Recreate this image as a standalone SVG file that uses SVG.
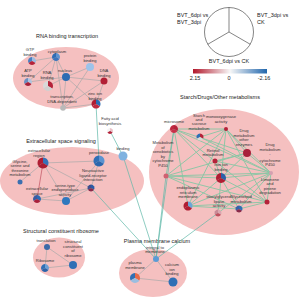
<svg xmlns="http://www.w3.org/2000/svg" width="300" height="297" viewBox="0 0 300 297">
<style>
.cl{fill:#f5c0c0}
.t{font-family:"Liberation Sans",Arial,sans-serif;font-size:5.5px;fill:#222;text-anchor:middle}
.l{font-family:"Liberation Sans",Arial,sans-serif;font-size:4.1px;fill:#333;text-anchor:middle}
.lg{font-family:"Liberation Sans",Arial,sans-serif;font-size:5.5px;fill:#222}
.g{stroke:#a9a9a9;stroke-width:.7;fill:none}
.r{stroke:#c05060;stroke-width:.7;fill:none}
.e{stroke:#86c6a4;stroke-width:.9;fill:none}
.x{stroke:#5fb8a8;stroke-width:.7;fill:none}
.o{fill:none;stroke:#fff;stroke-width:.3}
</style>
<defs>
<path id="ul" d="M0 0L-0.866 0.5A1 1 0 0 1 0 -1Z"/>
<path id="ur" d="M0 0L0 -1A1 1 0 0 1 0.866 0.5Z"/>
<path id="bt" d="M0 0L0.866 0.5A1 1 0 0 1 -0.866 0.5Z"/>
<linearGradient id="cb" x1="0" x2="1" y1="0" y2="0">
<stop offset="0" stop-color="#b2182b"/>
<stop offset="0.5" stop-color="#f7f7f7"/>
<stop offset="1" stop-color="#2166ac"/>
</linearGradient>
</defs>

<!-- clusters -->
<g id="clusters">
<ellipse class="cl" cx="66" cy="78" rx="53" ry="31"/>
<ellipse class="cl" cx="72" cy="181" rx="72" ry="34"/>
<ellipse class="cl" cx="59" cy="257.5" rx="26" ry="20"/>
<ellipse class="cl" cx="153" cy="273" rx="34" ry="24"/>
<ellipse class="cl" cx="224" cy="172" rx="75" ry="63"/>
</g>
<g id="titles">
<text class="t" x="67" y="38">RNA binding transcription</text>
<text class="t" x="61" y="143">Extracellular space signaling</text>
<text class="t" x="61" y="233">Structural constituent ribosome</text>
<text class="t" x="157" y="243">Plasma membrane calcium</text>
<text class="t" x="220" y="99">Starch/Drugs/Other metabolisms</text>
</g>

<!-- legend -->
<g id="legend">
<circle cx="229" cy="32" r="24.5" fill="none" stroke="#333" stroke-width=".6"/>
<path d="M229 32V7.5M229 32L207.8 44.25M229 32L250.2 44.25" stroke="#333" stroke-width=".6" fill="none"/>
<text class="lg" x="177" y="17">BVT_6dpi vs</text>
<text class="lg" x="177" y="23.5">BVT_3dpi</text>
<text class="lg" x="257" y="17">BVT_3dpi vs</text>
<text class="lg" x="257" y="23.5">CK</text>
<text class="lg" x="229" y="63" text-anchor="middle">BVT_6dpi vs CK</text>
<rect x="193" y="69" width="74" height="4.5" fill="url(#cb)"/>
<text class="lg" x="195" y="80" text-anchor="middle" font-size="5">2.15</text>
<text class="lg" x="229" y="80" text-anchor="middle" font-size="5">0</text>
<text class="lg" x="264" y="80" text-anchor="middle" font-size="5">-2.16</text>
</g>

<!-- connectors -->
<g id="connectors">
<!-- RNA cluster -->
<path class="g" d="M32 61L56 57M56 57L66 77M56 57L48 86M56 57L28 82M56 57L63 108M66 77L90 67M66 77L104 81M66 77L63 108M66 77L96 104M66 77L48 86M104 81L96 104M104 81L63 108M96 104L63 108M90 67L63 108M28 82L66 77"/>
<!-- extracellular cluster -->
<path class="g" d="M43 163L99 161M43 163L91 188M43 163L66 201M43 163L20 182M99 161L91 188M99 161L66 201M91 188L66 201M66 201L37 199M91 188L37 199"/>
<path class="r" d="M43 163L37 199"/>
<!-- ribosome -->
<path class="g" d="M47 247L45 268M47 247L73 265M45 268L73 265"/>
<!-- plasma -->
<path class="g" d="M156 259L135 278M156 259L173 282M135 278L173 282"/>
<!-- starch cluster -->
<path class="e" d="M174 129L226 129M174 129L247 153M174 129L271 173M174 129L221 178M174 129L267 202M174 129L166 176M174 129L188 206M226 129L247 153M226 129L166 176M226 129L221 178M226 129L271 173M226 129L188 206M226 129L267 202M247 153L166 176M247 153L271 173M247 153L221 178M247 153L215 161M166 176L271 173M166 176L221 178M166 176L267 202M166 176L239 209M215 161L271 173M215 161L221 178M221 178L271 173M221 178L267 202M221 178L188 206M221 178L239 209M221 178L218 213M188 206L271 173M188 206L267 202M188 206L239 209M271 173L267 202M271 173L239 209M267 202L239 209M218 213L271 173M200 137L271 173M200 137L226 129"/>
<!-- cross-cluster -->
<path class="x" d="M96 104L99 161M110 131L123 156M123 156L156 259M91 188L156 259M166 176L156 259M174 129L156 259M218 213L156 259"/>
</g>

<!-- nodes -->
<g id="n-gtp"><use href="#ul" fill="#4a7fc0" transform="translate(32 61) scale(4)"/><use href="#ur" fill="#9dbbe0" transform="translate(32 61) scale(4)"/><use href="#bt" fill="#b5223a" transform="translate(32 61) scale(4)"/><text class="l" x="30" y="51">GTP</text><text class="l" x="30" y="55.5">binding</text></g>
<g id="n-cytoplasm"><use href="#ul" fill="#2e6db5" transform="translate(56 57) scale(4)"/><use href="#ur" fill="#5b93d0" transform="translate(56 57) scale(4)"/><use href="#bt" fill="#3a74bd" transform="translate(56 57) scale(4)"/><text class="l" x="57" y="52.5">cytoplasm</text></g>
<g id="n-protein"><circle cx="90" cy="67" r="4" fill="#9cc3ea"/><text class="l" x="90" y="57">protein</text><text class="l" x="90" y="61.5">binding</text></g>
<g id="n-atp"><use href="#ul" fill="#6b8fc0" transform="translate(28 82) scale(4)"/><use href="#ur" fill="#b0c4de" transform="translate(28 82) scale(4)"/><use href="#bt" fill="#a8203a" transform="translate(28 82) scale(4)"/><text class="l" x="28" y="72">ATP</text><text class="l" x="28" y="76.5">binding</text></g>
<g id="n-rna"><use href="#ul" fill="#d8d8d8" transform="translate(48 86) scale(5)"/><use href="#ur" fill="#b5223a" transform="translate(48 86) scale(5)"/><use href="#bt" fill="#d0d0d0" transform="translate(48 86) scale(5)"/><text class="l" x="47" y="74">RNA</text><text class="l" x="47" y="78.5">binding</text></g>
<g id="n-nucleus"><circle cx="66" cy="77" r="4" fill="#2d6db3"/><text class="l" x="65" y="71.5">nucleus</text></g>
<g id="n-dna"><circle cx="104" cy="81" r="3.5" fill="#b21f35"/><text class="l" x="104" y="72">DNA</text><text class="l" x="104" y="76.5">binding</text></g>
<g id="n-transcription"><circle cx="63" cy="108" r="2.8" fill="#b9b9b9"/><text class="l" x="62" y="98">transcription,</text><text class="l" x="62" y="102.5">DNA-dependent</text></g>
<g id="n-zinc"><use href="#ul" fill="#b01d33" transform="translate(96 104) scale(4.5)"/><use href="#ur" fill="#2d6db3" transform="translate(96 104) scale(4.5)"/><use href="#bt" fill="#c02a40" transform="translate(96 104) scale(4.5)"/><text class="l" x="95" y="95">zinc ion</text><text class="l" x="95" y="99.5">binding</text></g>

<g id="n-fatty"><use href="#ul" fill="#f4f4f4" transform="translate(110 131) scale(3)"/><use href="#ur" fill="#e9c3c8" transform="translate(110 131) scale(3)"/><use href="#bt" fill="#b5223a" transform="translate(110 131) scale(3)"/><text class="l" x="110" y="120">Fatty acid</text><text class="l" x="110" y="124.5">biosynthesis</text></g>
<g id="n-binding"><circle cx="123" cy="156" r="4.5" fill="#7fb2e0"/><text class="l" x="123" y="150">binding</text></g>

<g id="n-extregion"><use href="#ul" fill="#b01d33" transform="translate(43 163) scale(5.5)"/><use href="#ur" fill="#3572b8" transform="translate(43 163) scale(5.5)"/><use href="#bt" fill="#a81d33" transform="translate(43 163) scale(5.5)"/><text class="l" x="39" y="152">extracellular</text><text class="l" x="39" y="156.5">region</text></g>
<g id="n-peroxidase"><use href="#ul" fill="#2f6fb6" transform="translate(99 161) scale(5.5)"/><use href="#ur" fill="#5b93d0" transform="translate(99 161) scale(5.5)"/><use href="#bt" fill="#2a66ad" transform="translate(99 161) scale(5.5)"/><text class="l" x="99" y="154">peroxidase</text></g>
<g id="n-glycine"><circle cx="20" cy="182" r="2.5" fill="#3b6fb0"/><text class="l" x="20" y="162.5">Glycine,</text><text class="l" x="20" y="167">serine and</text><text class="l" x="20" y="171.5">threonine</text><text class="l" x="20" y="176">metabolism</text></g>
<g id="n-neuro"><use href="#ul" fill="#3d4e8f" transform="translate(91 188) scale(3.5)"/><use href="#ur" fill="#2b5aa5" transform="translate(91 188) scale(3.5)"/><use href="#bt" fill="#8a2a4a" transform="translate(91 188) scale(3.5)"/><text class="l" x="93" y="172">Neuroactive</text><text class="l" x="93" y="176.5">ligand-receptor</text><text class="l" x="93" y="181">interaction</text></g>
<g id="n-serine"><circle cx="66" cy="201" r="4" fill="#2f78be"/><text class="l" x="65" y="186.5">serine-type</text><text class="l" x="65" y="191">endopeptidase</text><text class="l" x="65" y="195.5">activity</text></g>
<g id="n-extspace"><use href="#ul" fill="#3a5aa0" transform="translate(37 199) scale(4)"/><use href="#ur" fill="#2e6ab3" transform="translate(37 199) scale(4)"/><use href="#bt" fill="#a8203a" transform="translate(37 199) scale(4)"/><text class="l" x="37" y="190">extracellular</text><text class="l" x="37" y="194.5">space</text></g>

<g id="n-translation"><circle cx="47" cy="247" r="3" fill="#3c6aa8"/><text class="l" x="46" y="242">translation</text></g>
<g id="n-structural"><circle cx="73" cy="265" r="4" fill="#2f6fb5"/><text class="l" x="73" y="243">structural</text><text class="l" x="73" y="247.5">constituent</text><text class="l" x="73" y="252">of</text><text class="l" x="73" y="256.5">ribosome</text></g>
<g id="n-ribosome"><use href="#ul" fill="#2f6fb5" transform="translate(45 268) scale(4)"/><use href="#ur" fill="#6a9fd6" transform="translate(45 268) scale(4)"/><use href="#bt" fill="#2a62a8" transform="translate(45 268) scale(4)"/><text class="l" x="45" y="262">Ribosome</text></g>

<g id="n-integral"><circle cx="156" cy="259" r="3" fill="#5b9bd5"/><text class="l" x="155" y="248.5">integral to</text><text class="l" x="155" y="252.5">membrane</text></g>
<g id="n-plasma"><use href="#ul" fill="#2f6fb5" transform="translate(135 278) scale(5)"/><use href="#ur" fill="#e66a4a" transform="translate(135 278) scale(5)"/><use href="#bt" fill="#9bbde0" transform="translate(135 278) scale(5)"/><text class="l" x="135" y="264">plasma</text><text class="l" x="135" y="268.5">membrane</text></g>
<g id="n-calcium"><circle cx="173" cy="282" r="4.5" fill="#2f6fb5"/><text class="l" x="172" y="266">calcium</text><text class="l" x="172" y="270.5">ion</text><text class="l" x="172" y="275">binding</text></g>

<g id="n-microsome"><use href="#ul" fill="#c0283f" transform="translate(174 129) scale(4)"/><use href="#ur" fill="#b5223a" transform="translate(174 129) scale(4)"/><use href="#bt" fill="#c8304a" transform="translate(174 129) scale(4)"/><text class="l" x="174" y="123">microsome</text></g>
<g id="n-starch"><use href="#ul" fill="#2f6fb5" transform="translate(200 137) scale(3.5)"/><use href="#ur" fill="#b5223a" transform="translate(200 137) scale(3.5)"/><use href="#bt" fill="#d8d8d8" transform="translate(200 137) scale(3.5)"/><text class="l" x="199" y="117">Starch</text><text class="l" x="199" y="121">and</text><text class="l" x="199" y="125">sucrose</text><text class="l" x="199" y="129.5">metabolism</text></g>
<g id="n-mono"><circle cx="226" cy="129" r="2" fill="#b5223a"/><text class="l" x="221" y="117.5">monooxygenase</text><text class="l" x="221" y="122.5">activity</text></g>
<g id="n-drugother"><circle cx="247" cy="153" r="4" fill="#a8203a"/><text class="l" x="244" y="132">Drug</text><text class="l" x="244" y="136.5">metabolism</text><text class="l" x="244" y="141">other</text><text class="l" x="244" y="145.5">enzymes</text></g>
<g id="n-drugp450"><circle cx="271" cy="173" r="2" fill="#d4a0b0"/><text class="l" x="270" y="146">Drug</text><text class="l" x="270" y="150.5">metabolism</text><text class="l" x="270" y="155">-</text><text class="l" x="270" y="161.5">cytochrome</text><text class="l" x="270" y="166">P450</text></g>
<g id="n-xeno"><circle cx="166" cy="176" r="2.5" fill="#d06070"/><text class="l" x="163" y="144">Metabolism</text><text class="l" x="163" y="148.5">of</text><text class="l" x="163" y="153">xenobiotics</text><text class="l" x="163" y="157.5">by</text><text class="l" x="163" y="162">cytochrome</text><text class="l" x="163" y="166.5">P450</text></g>
<g id="n-retinol"><circle cx="215" cy="161" r="2.5" fill="#b5223a"/><text class="l" x="213" y="152">Retinol</text><text class="l" x="213" y="156">metabolism</text></g>
<g id="n-iron"><use href="#ul" fill="#b01d33" transform="translate(221 178) scale(5)"/><use href="#ur" fill="#2d5fa8" transform="translate(221 178) scale(5)"/><use href="#bt" fill="#b01d33" transform="translate(221 178) scale(5)"/><text class="l" x="221" y="166">iron ion</text><text class="l" x="221" y="170.5">binding</text></g>
<g id="n-limonene"><circle cx="267" cy="202" r="2.5" fill="#b5223a"/><text class="l" x="270" y="180.5">Limonene</text><text class="l" x="270" y="185">and</text><text class="l" x="270" y="189.5">pinene</text><text class="l" x="270" y="194">degradation</text></g>
<g id="n-er"><use href="#ul" fill="#b01d33" transform="translate(188 206) scale(4.5)"/><use href="#ur" fill="#6ba6d8" transform="translate(188 206) scale(4.5)"/><use href="#bt" fill="#b01d33" transform="translate(188 206) scale(4.5)"/><text class="l" x="188" y="189">endoplasmic</text><text class="l" x="188" y="193.5">reticulum</text><text class="l" x="188" y="198">membrane</text></g>
<g id="n-triacyl"><use href="#ul" fill="#c98a96" transform="translate(218 213) scale(3.5)"/><use href="#ur" fill="#d8a8b0" transform="translate(218 213) scale(3.5)"/><use href="#bt" fill="#c0505f" transform="translate(218 213) scale(3.5)"/><text class="l" x="219" y="198">triacylglycerol</text><text class="l" x="219" y="202.5">lipase</text><text class="l" x="219" y="207">activity</text></g>
<g id="n-glycerolipid"><use href="#ul" fill="#3a5fa8" transform="translate(239 209) scale(3.5)"/><use href="#ur" fill="#2f6fb5" transform="translate(239 209) scale(3.5)"/><use href="#bt" fill="#8a2a4a" transform="translate(239 209) scale(3.5)"/><text class="l" x="241" y="198">Glycerolipid</text><text class="l" x="241" y="202.5">metabolism</text></g>
</svg>
